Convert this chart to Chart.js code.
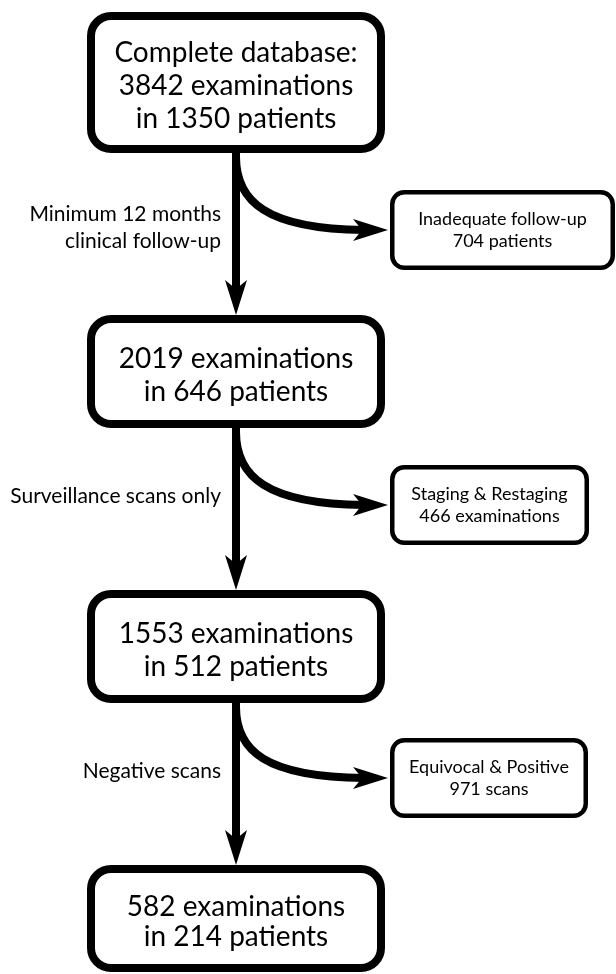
<!DOCTYPE html>
<html>
<head>
<meta charset="utf-8">
<script src="https://cdn.jsdelivr.net/npm/chart.js@4.4.1/dist/chart.umd.min.js"></script>
<style>
html, body { margin: 0; padding: 0; background: #fff; }
#wrap { width: 616px; height: 974px; position: relative; }
</style>
</head>
<body>
<div id="wrap"><canvas id="flow"></canvas></div>
<script>
// texts of the flow
const mainBoxText = [
    ['Complete database:', '3842 examinations', 'in 1350 patients'],
    ['2019 examinations', 'in 646 patients'],
    ['1553 examinations', 'in 512 patients'],
    ['582 examinations', 'in 214 patients']
];
const sideBoxText = [
    ['Inadequate follow-up', '704 patients'],
    ['Staging & Restaging', '466 examinations'],
    ['Equivocal & Positive', '971 scans']
];
const stepText = [
    ['Minimum 12 months', 'clinical follow-up'],
    ['Surveillance scans only'],
    ['Negative scans']
];

// layout, in axis units (x 0..616, y 0..974 from the top)
const mainTop = [12, 315, 590, 865];
const mainBottom = [153, 428, 703, 972];
const mainLeft = 87;
const mainRight = 385;
const mainLineGap = [33, 33, 33, 30];
const sideTop = [190, 465, 738];
const sideBottom = [270, 545, 818];
const sideLeft = 390;
const sideRight = [615, 589, 588];
const stepRight = 221;
const stepMid = [226.5, 495, 770];

const FONT = 'Lato, "Open Sans", sans-serif';

function roundBox(ctx, l, t, r, b, rad, lw) {
    const h = lw / 2;
    l += h; t += h; r -= h; b -= h;
    ctx.beginPath();
    ctx.moveTo(l + rad, t);
    ctx.arcTo(r, t, r, b, rad);
    ctx.arcTo(r, b, l, b, rad);
    ctx.arcTo(l, b, l, t, rad);
    ctx.arcTo(l, t, r, t, rad);
    ctx.closePath();
    ctx.fillStyle = '#fff';
    ctx.fill();
    ctx.lineWidth = lw;
    ctx.strokeStyle = '#000';
    ctx.stroke();
}

// arrow head pointing along (dx,dy) with its tip at (tx,ty)
function arrowHead(ctx, tx, ty, dx, dy) {
    const L = 35, W = 11, notch = 9;
    const nx = -dy, ny = dx;
    ctx.beginPath();
    ctx.moveTo(tx, ty);
    ctx.lineTo(tx - L * dx + W * nx, ty - L * dy + W * ny);
    ctx.lineTo(tx - (L - notch) * dx, ty - (L - notch) * dy);
    ctx.lineTo(tx - L * dx - W * nx, ty - L * dy - W * ny);
    ctx.closePath();
    ctx.fillStyle = '#000';
    ctx.fill();
}

function textLines(ctx, lines, cx, cy, gap, size, align) {
    ctx.font = size + 'px ' + FONT;
    ctx.fillStyle = '#000';
    ctx.textAlign = align;
    ctx.textBaseline = 'alphabetic';
    const first = cy - gap * (lines.length - 1) / 2;
    lines.forEach((s, i) => {
        ctx.fillText(s, cx, first + i * gap + size * 0.36);
    });
}

const flowPlugin = {
    id: 'flow',
    afterDatasetsDraw(chart) {
        const ctx = chart.ctx;
        const xs = chart.scales.x, ys = chart.scales.y;
        const px = v => xs.getPixelForValue(v);
        const py = v => ys.getPixelForValue(v);
        const cx = px((mainLeft + mainRight) / 2);
        ctx.save();
        ctx.lineCap = 'butt';

        // straight arrows down the middle
        for (let i = 0; i < mainTop.length - 1; i++) {
            const y0 = py(mainBottom[i]), tip = py(mainTop[i + 1]);
            ctx.beginPath();
            ctx.moveTo(cx, y0);
            ctx.lineTo(cx, tip - 24);
            ctx.lineWidth = 8;
            ctx.strokeStyle = '#000';
            ctx.stroke();
            arrowHead(ctx, cx, tip, 0, 1);
        }

        // curved arrows to the side boxes
        for (let i = 0; i < sideTop.length; i++) {
            const sy = py(mainBottom[i] + 8);
            const tx = px(sideLeft - 2);
            const ty = py((sideTop[i] + sideBottom[i]) / 2);
            ctx.beginPath();
            ctx.moveTo(cx, sy - 4);
            ctx.bezierCurveTo(cx, sy + 40, cx + 30, ty - 1, tx - 24, ty);
            ctx.lineWidth = 8;
            ctx.strokeStyle = '#000';
            ctx.stroke();
            arrowHead(ctx, tx, ty, 1, 0);
        }

        // main boxes
        mainBoxText.forEach((lines, i) => {
            roundBox(ctx, px(mainLeft), py(mainTop[i]), px(mainRight), py(mainBottom[i]), 20, 8);
            const my = py((mainTop[i] + mainBottom[i]) / 2 + 2.5);
            textLines(ctx, lines, cx, my, mainLineGap[i], 28, 'center');
        });

        // side boxes
        sideBoxText.forEach((lines, i) => {
            roundBox(ctx, px(sideLeft), py(sideTop[i]), px(sideRight[i]), py(sideBottom[i]), 12, 4.5);
            const sx = px((sideLeft + sideRight[i]) / 2);
            const sy = py((sideTop[i] + sideBottom[i]) / 2);
            textLines(ctx, lines, sx, sy, 22, 18, 'center');
        });

        // step labels left of the arrows
        stepText.forEach((lines, i) => {
            textLines(ctx, lines, px(stepRight), py(stepMid[i]), 27, 21, 'right');
        });

        ctx.restore();
    }
};

new Chart(document.getElementById('flow'), {
    type: 'scatter',
    data: {
        datasets: [{
            data: mainTop.map((t, i) => ({x: (mainLeft + mainRight) / 2, y: (t + mainBottom[i]) / 2})),
            pointRadius: 0
        }]
    },
    options: {
        responsive: true,
        maintainAspectRatio: false,
        animation: false,
        events: [],
        layout: {padding: 0},
        plugins: {legend: {display: false}, tooltip: {enabled: false}},
        scales: {
            x: {type: 'linear', min: 0, max: 616, display: false},
            y: {type: 'linear', min: 0, max: 974, reverse: true, display: false}
        }
    },
    plugins: [flowPlugin]
});
</script>
</body>
</html>
